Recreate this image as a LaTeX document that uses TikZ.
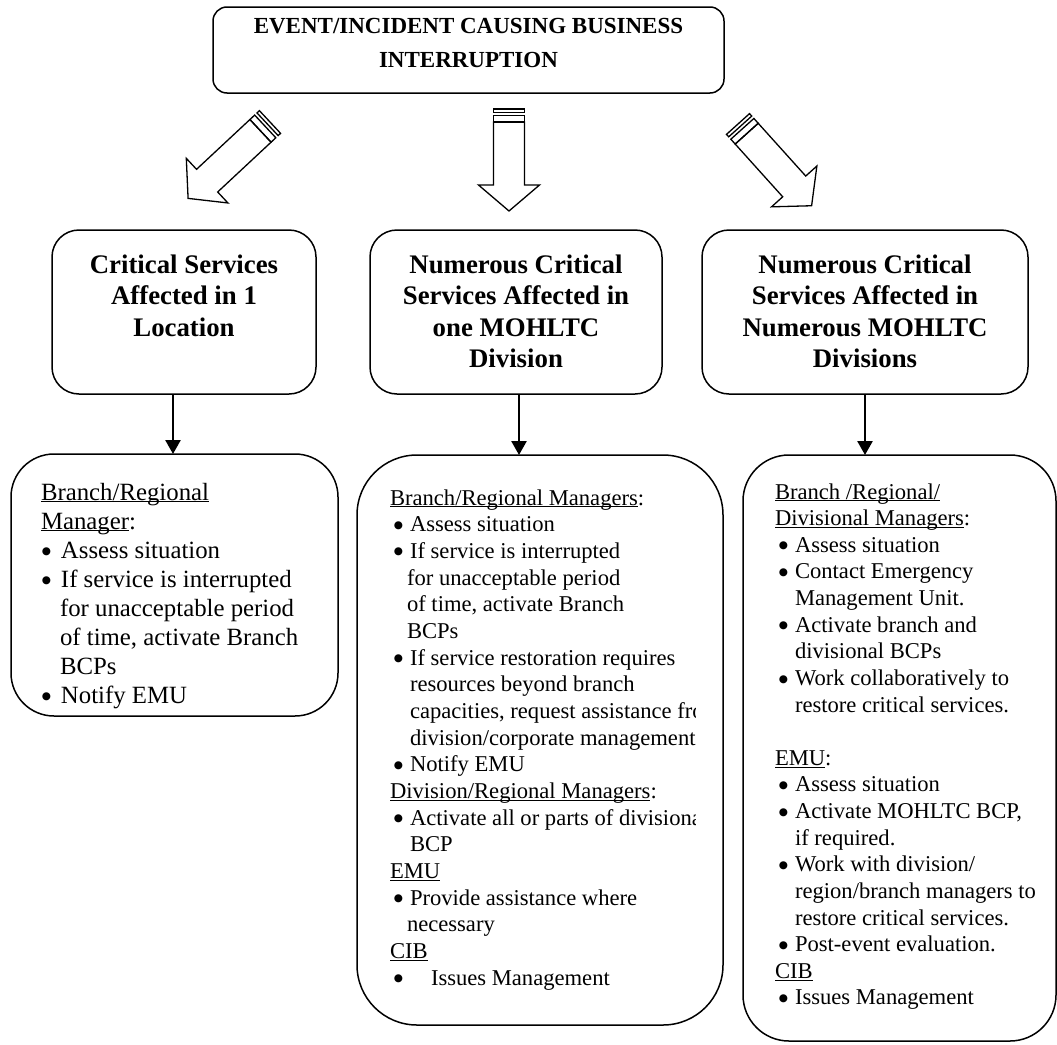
\documentclass[tikz,border=0pt]{standalone}
\usepackage{fontspec}
\setmainfont{Liberation Serif}
\newfontfamily\symfont{DejaVu Sans}
\usetikzlibrary{arrows.meta}

% underlined word with a rule set just below the baseline
\newcommand\ulx[1]{\leavevmode\setbox0=\hbox{#1}\rlap{\rule[-2.4pt]{\wd0}{1.1pt}}\box0}
% round bullet sitting at mid x-height
\newcommand\bdot{\raisebox{3.4pt}{\fontsize{10.5}{10.5}\symfont ●}}
% bullet line: bullet centred at #1, text starting at #2, both from the left margin
\newcommand\bl[3][8.5pt]{\hspace*{#1}\makebox[0pt]{\bdot}\hspace*{\dimexpr#2-#1\relax}#3}
% continuation line of a bullet
\newcommand\cn[2][20pt]{\hspace*{#1}#2}
% striped block arrow: tail x, tail y, rotation, length
\newcommand\blockarrow[4]{%
  \begin{scope}[shift={(#1,#2)},rotate=#3,barrowline]
    \draw (-15.5,0) rectangle (15.5,3.3);
    \draw (-15.5,6.5) rectangle (15.5,13);
    \draw (-15.5,13) -- (-15.5,#4-26) -- (-30.5,#4-26) -- (0,#4)
          -- (30.5,#4-26) -- (15.5,#4-26) -- (15.5,13) -- cycle;
  \end{scope}}

\begin{document}
\begin{tikzpicture}[x=1pt,y=-1pt,
  every node/.style={inner sep=0pt, outer sep=0pt},
  frame/.style={draw=black, line width=1.5pt, fill=white},
  topbox/.style={frame, rounded corners=14pt, minimum width=511pt, minimum height=86pt},
  midbox/.style={frame, rounded corners=27pt, minimum height=164pt},
  toptext/.style={anchor=base, text width=500pt, align=flush center,
    font=\fontsize{23}{34}\selectfont\bfseries},
  midtext/.style={anchor=base, text width=#1, align=flush center,
    font=\fontsize{26.8}{31.5}\selectfont\bfseries},
  listtext/.style={anchor=base west, text width=420pt, align=flush left},
  barrowline/.style={draw=black, line width=1.3pt, fill=white, line join=miter},
  downarrow/.style={draw=black, line width=2.6pt, -{Triangle[width=15pt,length=14pt]}}
]
\useasboundingbox (0,0) rectangle (1057,1044);
\clip (0,0) rectangle (1057,1044);

% heading box
\node[topbox] (event) at (468.5,50) {};
\node[toptext] (eventtxt) at (468.5,33) {EVENT/INCIDENT CAUSING BUSINESS\\INTERRUPTION};

% block arrows fanning out from the heading
\blockarrow{270}{122}{-47}{112}
\blockarrow{509}{109}{0}{102}
\blockarrow{738}{124}{42}{110}

% the three scope boxes
\node[midbox, minimum width=264pt] (scope1) at (184,312) {};
\node[midtext=250pt] (scope1txt) at (184,273) {Critical Services\\Affected in 1\\Location};
\node[midbox, minimum width=292pt] (scope2) at (516,312) {};
\node[midtext=285pt] (scope2txt) at (516,273) {Numerous Critical\\Services Affected in\\one MOHLTC\\Division};
\node[midbox, minimum width=326pt] (scope3) at (865,312) {};
\node[midtext=320pt] (scope3txt) at (865,273) {Numerous Critical\\Services Affected in\\Numerous MOHLTC\\Divisions};

% the three response boxes
\node[frame, rounded corners=43pt, minimum width=327pt, minimum height=262pt] (resp1) at (174.5,585) {};
\node[frame, rounded corners=60pt, minimum width=366pt, minimum height=570pt] (resp2) at (540,740) {};
\node[frame, rounded corners=46pt, minimum width=313pt, minimum height=586pt] (resp3) at (899.5,748) {};

% connectors from scope boxes to response boxes
\coordinate (c1) at (173,0);
\coordinate (c2) at (519,0);
\coordinate (c3) at (865,0);
\draw[downarrow] (scope1.south -| c1) -- (resp1.north -| c1);
\draw[downarrow] (scope2.south -| c2) -- (resp2.north -| c2);
\draw[downarrow] (scope3.south -| c3) -- (resp3.north -| c3);

% response texts
\node[listtext, font=\fontsize{24.8}{29}\selectfont] (resp1txt) at (41,500) {%
\ulx{Branch/Regional}\\
\ulx{Manager}:\\
\bl[5.5pt]{20pt}{Assess situation}\\
\bl[5.5pt]{20pt}{If service is interrupted}\\
\cn[19pt]{for unacceptable period}\\
\cn[19pt]{of time, activate Branch}\\
\cn[19pt]{BCPs}\\
\bl[5.5pt]{20pt}{Notify EMU}};

\begin{scope}
\clip (357,455) rectangle (695,1025);
\node[listtext, font=\fontsize{22.6}{26.67}\selectfont] (resp2txt) at (390,505) {%
\ulx{Branch/Regional Managers}:\\
\bl{20pt}{Assess situation}\\
\bl{20pt}{If service is interrupted}\\
\cn[17pt]{for unacceptable period}\\
\cn[17pt]{of time, activate Branch}\\
\cn[17pt]{BCPs}\\
\bl{20pt}{If service restoration requires}\\
\cn{resources beyond branch}\\
\cn{capacities, request assistance from}\\
\cn{division/corporate management}\\
\bl{20pt}{Notify EMU}\\
\ulx{Division/Regional Managers}:\\
\bl{20pt}{Activate all or parts of divisional}\\
\cn{BCP}\\
\ulx{EMU}\\
\bl{20pt}{Provide assistance where}\\
\cn[17pt]{necessary}\\
\ulx{CIB}\\
\bl{41pt}{Issues Management}};
\end{scope}

\node[listtext, font=\fontsize{22.6}{26.63}\selectfont] (resp3txt) at (775,499) {%
\ulx{Branch /Regional/}\\
\ulx{Divisional Managers}:\\
\bl{20pt}{Assess situation}\\
\bl{20pt}{Contact Emergency}\\
\cn{Management Unit.}\\
\bl{20pt}{Activate branch and}\\
\cn{divisional BCPs}\\
\bl{20pt}{Work collaboratively to}\\
\cn{restore critical services.}\\
~\\
\ulx{EMU}:\\
\bl{20pt}{Assess situation}\\
\bl{20pt}{Activate MOHLTC BCP,}\\
\cn{if required.}\\
\bl{20pt}{Work with division/}\\
\cn{region/branch managers to}\\
\cn{restore critical services.}\\
\bl{20pt}{Post-event evaluation.}\\
\ulx{CIB}\\
\bl{20pt}{Issues Management}};
\end{tikzpicture}
\end{document}
